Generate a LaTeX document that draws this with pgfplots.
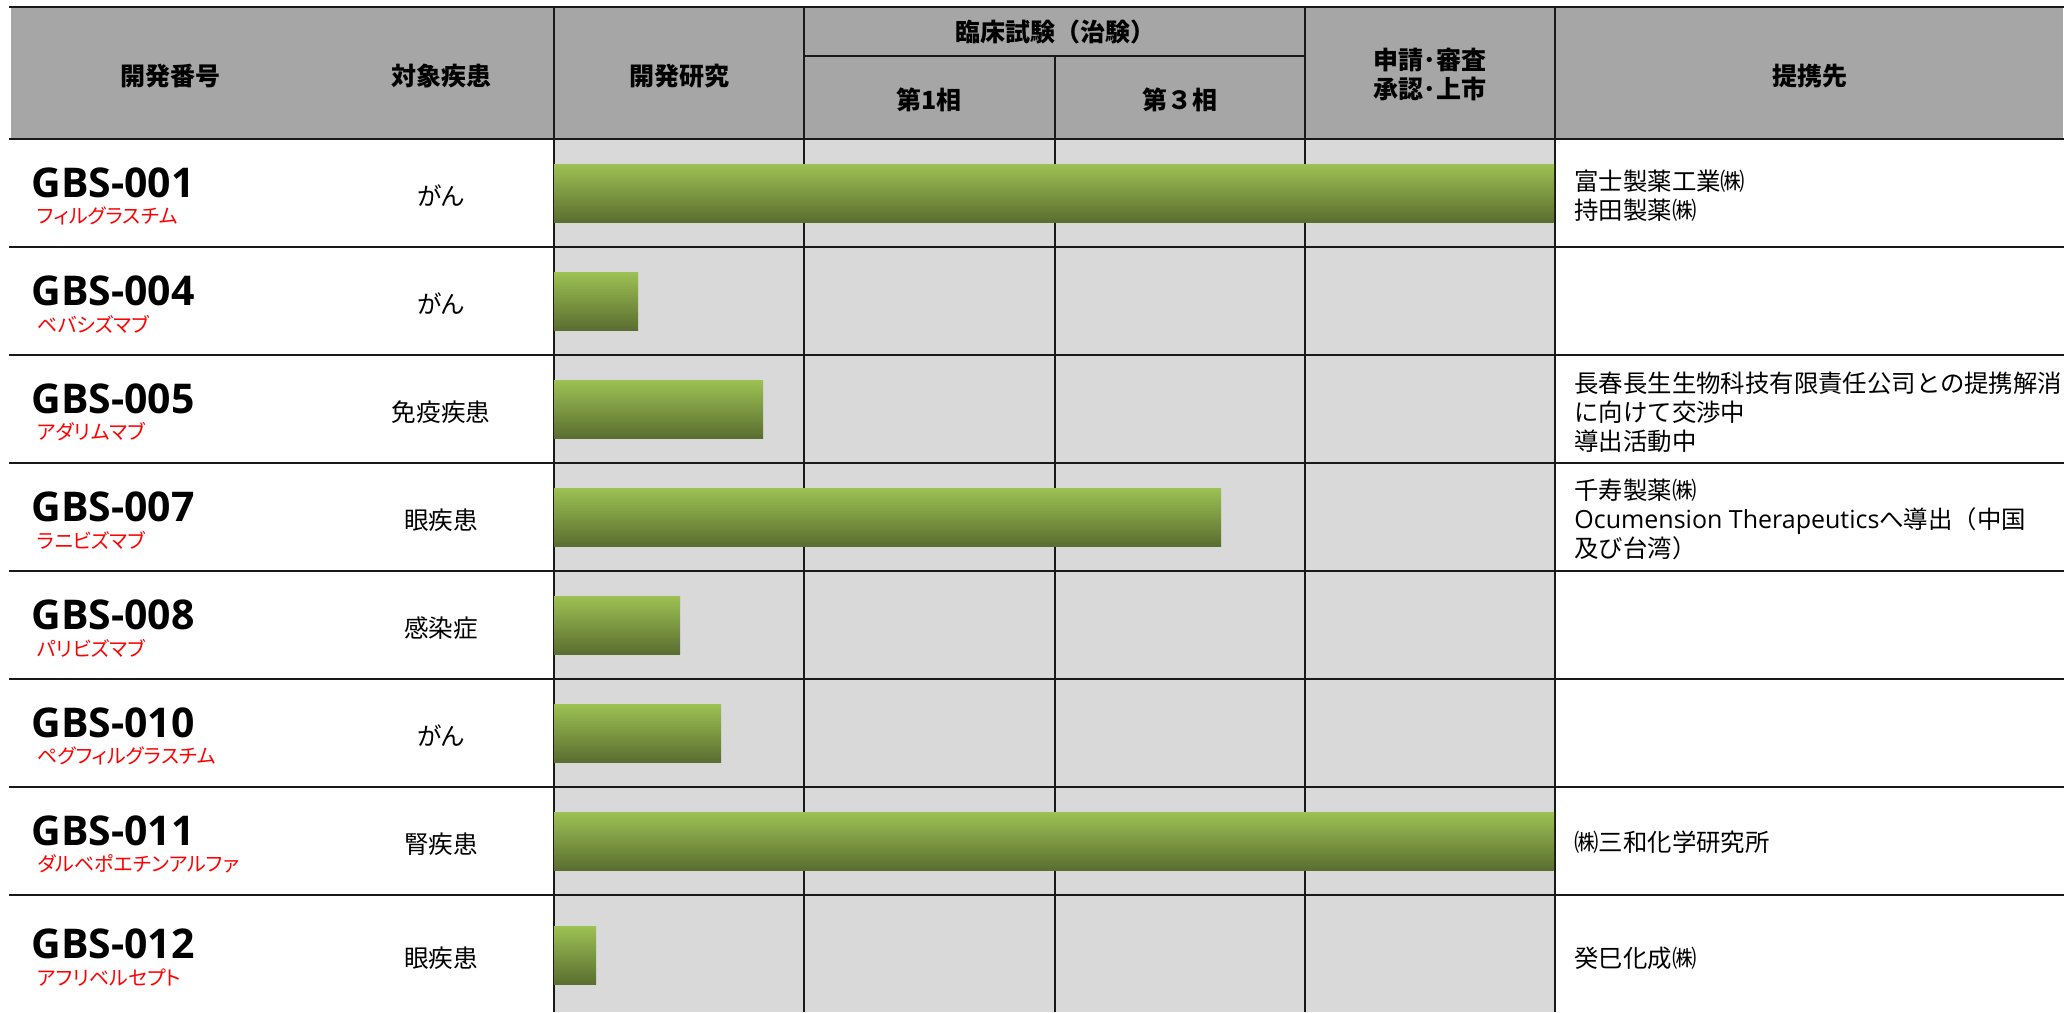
\documentclass[border=0pt]{standalone}
\usepackage{pgfplots}
\pgfplotsset{compat=1.18}
\usepackage{fontspec}
\setmainfont{Noto Sans CJK JP}
\newfontfamily\jpp{Noto Sans CJK JP}[RawFeature=+palt]
\newfontfamily\lat{Open Sans}
\definecolor{hdr}{RGB}{166,166,166}
\definecolor{cell}{RGB}{217,217,217}
\definecolor{gtop}{RGB}{157,193,83}
\definecolor{gbot}{RGB}{90,110,48}
\definecolor{ln}{RGB}{25,25,25}
\begin{document}
\begin{tikzpicture}
\begin{scope}[shift={(0,506pt)}, x=0.5pt, y=-0.5pt]
 \fill[hdr] (11,7) rectangle (2063,139);
 \fill[cell] (554,139) rectangle (1555,1012);
 \draw[ln, line width=1.3pt] (9,7) -- (2064,7);
 \draw[ln, line width=1.3pt] (804,56) -- (1305,56);
 \foreach \yy in {139,247,355,463,571,679,787,895}
   \draw[ln,line width=1.3pt] (9,\yy) -- (2064,\yy);
 \foreach \xx in {554,804,1305,1555}
   \draw[ln,line width=1.3pt] (\xx,7) -- (\xx,1012);
 \draw[ln,line width=1.3pt] (1055,56) -- (1055,1012);
\end{scope}
\begin{axis}[at={(0,0)}, anchor=south west, scale only axis,
  width=1035pt, height=506pt,
  xmin=-2.216, xmax=6.064, ymin=0, ymax=1012, y dir=reverse,
  hide axis, clip=false, no markers,
  every axis plot/.style={xbar, bar shift=0pt, bar width=58, draw=none,
    mark=none, top color=gtop, bottom color=gbot}]
% one plot per product so that each bar gets its own gradient
\addplot coordinates {(4.000,193)}; % GBS-001
\addplot coordinates {(0.336,301)}; % GBS-004
\addplot coordinates {(0.836,409)}; % GBS-005
\addplot coordinates {(2.668,517)}; % GBS-007
\addplot coordinates {(0.504,625)}; % GBS-008
\addplot coordinates {(0.668,733)}; % GBS-010
\addplot coordinates {(4.000,841)}; % GBS-011
\addplot coordinates {(0.168,955)}; % GBS-012
\end{axis}
\begin{scope}[shift={(0,506pt)}, x=0.5pt, y=-0.5pt]
 % header
 \begin{scope}[every node/.style={font=\bfseries\fontsize{12.5}{14.5}\selectfont, inner sep=0pt, align=center}]
  \node at (170,76) {開発番号};
  \node at (441,76) {対象疾患};
  \node at (679,76) {開発研究};
  \node at (1055,32) {臨床試験（治験）};
  \node at (929,100) {第1相};
  \node at (1180,100) {第３相};
  \node at (1430,75) {申請･審査\\承認･上市};
  \node at (1810,76) {提携先};
 \end{scope}
 % development codes
 \begin{scope}[every node/.style={anchor=west, inner sep=0pt, font=\lat\bfseries\fontsize{20.5}{24}\selectfont}]
  \node at (31,183) {GBS-001};
  \node at (31,291) {GBS-004};
  \node at (31,399) {GBS-005};
  \node at (31,507) {GBS-007};
  \node at (31,615) {GBS-008};
  \node at (31,723) {GBS-010};
  \node at (31,831) {GBS-011};
  \node at (31,944) {GBS-012};
 \end{scope}
 \begin{scope}[every node/.style={anchor=west, inner sep=0pt, text=red, font=\jpp\fontsize{10}{12}\selectfont}]
  \node at (37,216) {フィルグラスチム};
  \node at (37,324) {ベバシズマブ};
  \node at (37,432) {アダリムマブ};
  \node at (37,540) {ラニビズマブ};
  \node at (37,648) {パリビズマブ};
  \node at (37,756) {ペグフィルグラスチム};
  \node at (37,864) {ダルベポエチンアルファ};
  \node at (37,978) {アフリベルセプト};
 \end{scope}
 % diseases
 \begin{scope}[every node/.style={inner sep=0pt, font=\jpp\fontsize{12.3}{14}\selectfont}]
  \node at (441,196) {がん};
  \node at (441,304) {がん};
  \node at (441,412) {免疫疾患};
  \node at (441,520) {眼疾患};
  \node at (441,628) {感染症};
  \node at (441,736) {がん};
  \node at (441,844) {腎疾患};
  \node at (441,958) {眼疾患};
 \end{scope}
 % partners
 \begin{scope}[every node/.style={anchor=west, inner sep=0pt, align=left, font=\fontsize{12.2}{14.5}\selectfont}]
  \node at (1574,196) {富士製薬工業㈱\\持田製薬㈱};
  \node at (1574,412) {長春長生生物科技有限責任公司との提携解消\\に向けて交渉中\\導出活動中};
  \node at (1574,519) {千寿製薬㈱\\{\lat\fontsize{12.5}{14.5}\selectfont Ocumension Therapeutics}へ導出（中国\\及び台湾）};
  \node at (1574,842) {㈱三和化学研究所};
  \node at (1574,958) {癸巳化成㈱};
 \end{scope}
\end{scope}
\pgfresetboundingbox
\path (0,0) rectangle (1035pt,506pt);
\end{tikzpicture}
\end{document}
